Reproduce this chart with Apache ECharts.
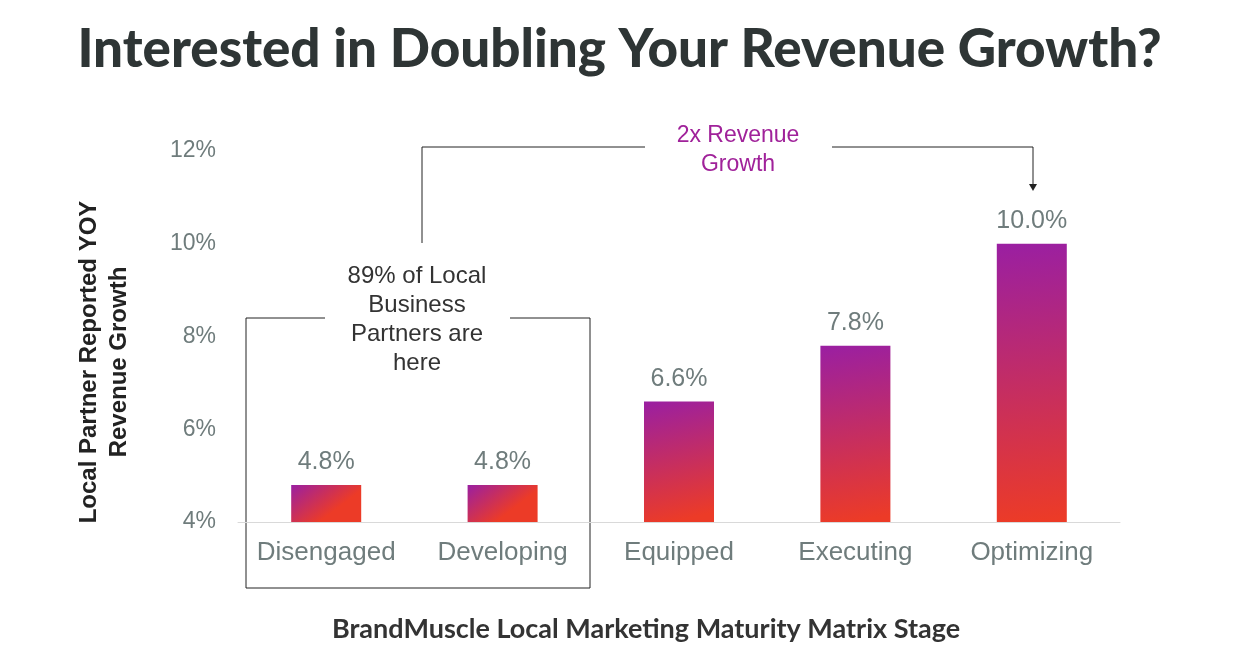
<!DOCTYPE html>
<html><head><meta charset="utf-8">
<script src="https://cdn.jsdelivr.net/npm/echarts@6/dist/echarts.min.js"></script>
<style>html,body{margin:0;background:#fff}#c{width:1239px;height:671px}</style>
</head><body><div id="c"></div>
<script>
const stages = ['Disengaged', 'Developing', 'Equipped', 'Executing', 'Optimizing']
const growth = [4.8, 4.8, 6.6, 7.8, 10.0]
const yTicks = [4, 12, 2] // min, max, interval

const chart = echarts.init(document.getElementById('c'))
const barColor = new echarts.graphic.LinearGradient(0, 0, 0.4, 1, [
    { offset: 0, color: '#9a1fa2' },
    { offset: 1, color: '#ec3b27' }
])
const gray = '#6f7c7c'
const line = { stroke: '#222', lineWidth: 1 }
chart.setOption({
    grid: { left: 238, right: 119, top: 151, bottom: 149 },
    title: {
        text: 'Interested in Doubling Your Revenue Growth?',
        left: 'center', top: 18,
        textStyle: { fontFamily: 'Lato', fontWeight: 900, fontSize: 53, color: '#2e3535' }
    },
    xAxis: {
        type: 'category', data: stages,
        axisLine: { lineStyle: { color: '#d9d9d9' } },
        axisTick: { show: false },
        axisLabel: { interval: 0, color: gray, fontSize: 26, fontFamily: 'Liberation Sans', margin: 18 },
        name: 'BrandMuscle Local Marketing Maturity Matrix Stage',
        nameLocation: 'middle', nameGap: 94,
        nameTextStyle: { fontFamily: 'Lato', fontWeight: 'bold', fontSize: 27, color: '#333', padding: [0, 66, 0, 0] }
    },
    yAxis: {
        type: 'value', min: yTicks[0], max: yTicks[1], interval: yTicks[2],
        axisLine: { show: false }, axisTick: { show: false }, splitLine: { show: false },
        axisLabel: { formatter: '{value}%', color: gray, fontSize: 23, fontFamily: 'Liberation Sans', margin: 22 }
    },
    series: [{
        type: 'bar', data: growth, barWidth: 70,
        itemStyle: { color: barColor },
        label: { show: true, position: 'top', distance: 10, formatter: p => p.value.toFixed(1) + '%',
            color: gray, fontSize: 25, fontFamily: 'Liberation Sans' }
    }],
    graphic: [
        { type: 'text', x: 104, y: 362, rotation: Math.PI / 2, style: {
            text: 'Local Partner Reported YOY\nRevenue Growth', align: 'center', verticalAlign: 'middle',
            fontFamily: 'Liberation Sans', fontWeight: 'bold', fontSize: 24, lineHeight: 30, fill: '#222' } },
        { type: 'polyline', shape: { points: [[325, 318], [246, 318], [246, 588], [590, 588], [590, 318], [510, 318]] }, style: line },
        { type: 'text', x: 417, y: 320, style: {
            text: '89% of Local\nBusiness\nPartners are\nhere', align: 'center', verticalAlign: 'middle',
            fontFamily: 'Liberation Sans', fontSize: 24, lineHeight: 29, fill: '#333' } },
        { type: 'polyline', shape: { points: [[422, 243], [422, 147], [645, 147]] }, style: line },
        { type: 'polyline', shape: { points: [[832, 147], [1033, 147], [1033, 186]] }, style: line },
        { type: 'polygon', shape: { points: [[1029, 184], [1037, 184], [1033, 191]] }, style: { fill: '#222' } },
        { type: 'text', x: 738, y: 150, style: {
            text: '2x Revenue\nGrowth', align: 'center', verticalAlign: 'middle',
            fontFamily: 'Liberation Sans', fontSize: 23, lineHeight: 29, fill: '#a0229a' } }
    ]
})
</script></body></html>
